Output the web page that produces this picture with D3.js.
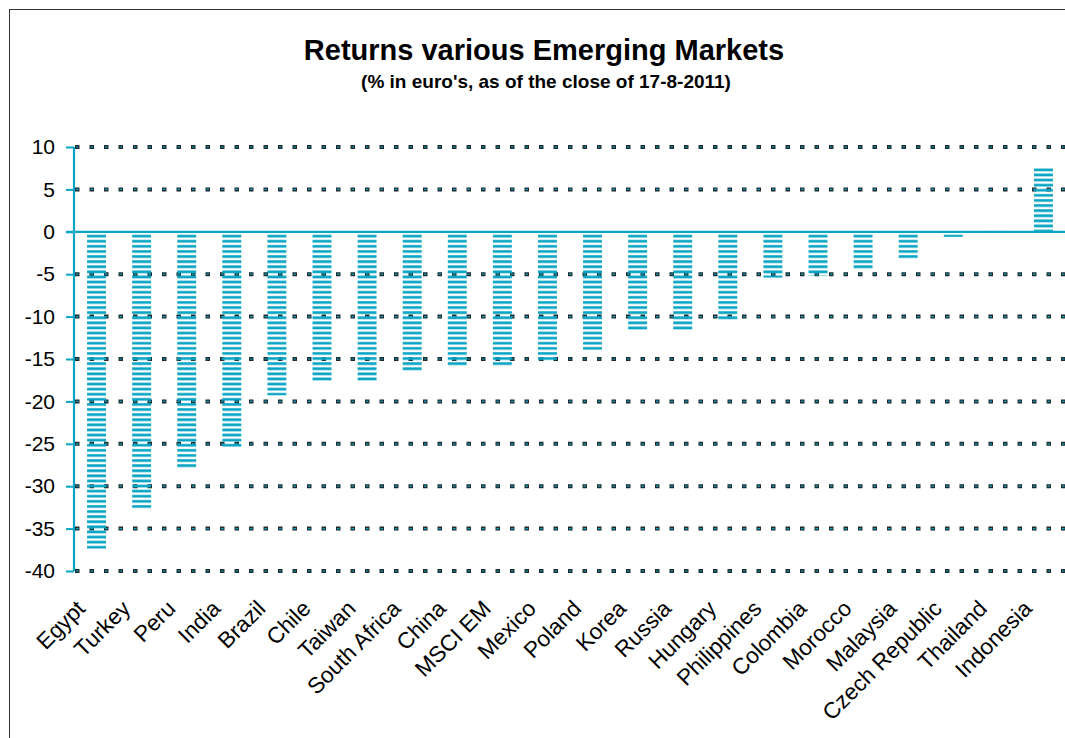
<html>

<head>
    <meta charset="utf-8">
    <script src="https://d3js.org/d3.v7.min.js"></script>
    <style>
        body { margin: 0; background: #fff; }
        text { font-family: Arial, "Liberation Sans", sans-serif; }
        .axis .domain { stroke: none; }
    </style>
</head>

<body>
    <div id="chart"></div>
    <script>
        // data
        const countries = ["Egypt", "Turkey", "Peru", "India", "Brazil", "Chile", "Taiwan", "South Africa",
            "China", "MSCI EM", "Mexico", "Poland", "Korea", "Russia", "Hungary", "Philippines",
            "Colombia", "Morocco", "Malaysia", "Czech Republic", "Thailand", "Indonesia"];
        const returns = [-37.4, -32.8, -27.9, -25.5, -19.3, -17.7, -17.6, -16.5,
            -15.9, -15.8, -15.2, -14.0, -11.7, -11.6, -10.4, -5.4,
            -5.2, -4.4, -3.2, -0.6, 0.1, 7.5];
        const yTicks = [10, 5, 0, -5, -10, -15, -20, -25, -30, -35, -40];

        const teal = "#0aa5c4";

        const svg = d3.select("#chart")
            .append("svg")
            .attr("width", 1065)
            .attr("height", 738);

        // outer frame
        svg.append("rect")
            .attr("x", 9.5).attr("y", 9.5)
            .attr("width", 1200).attr("height", 900)
            .attr("fill", "none")
            .attr("stroke", "#333")
            .attr("stroke-width", 1);

        // striped fill
        const defs = svg.append("defs");
        const pat = defs.append("pattern")
            .attr("id", "stripes")
            .attr("patternUnits", "userSpaceOnUse")
            .attr("width", 10).attr("height", 5.1);
        pat.append("rect")
            .attr("x", 0).attr("y", 0.2)
            .attr("width", 10).attr("height", 2.7)
            .attr("fill", teal);

        // title
        svg.append("text")
            .attr("x", 544).attr("y", 60)
            .attr("text-anchor", "middle")
            .style("font-size", "29px").style("font-weight", "bold")
            .text("Returns various Emerging Markets");
        svg.append("text")
            .attr("x", 546).attr("y", 88)
            .attr("text-anchor", "middle")
            .style("font-size", "19px").style("font-weight", "bold")
            .text("(% in euro's, as of the close of 17-8-2011)");

        const left = 74, right = 1066;
        const xScale = d3.scaleBand().domain(countries).range([left, right]).paddingInner(0.58).paddingOuter(0.29);
        const yScale = d3.scaleLinear().domain([-40, 10]).range([571, 147]);

        // dotted gridlines (not on zero)
        const grid = svg.append("g");
        const gridVals = yTicks.filter(d => d !== 0);
        grid.selectAll("line.g1").data(gridVals).join("line")
            .attr("class", "g1")
            .attr("x1", left + 1).attr("x2", 1065)
            .attr("y1", d => yScale(d)).attr("y2", d => yScale(d))
            .attr("stroke", "#1d2a2e").attr("stroke-width", 4)
            .attr("stroke-dasharray", "4.5 10");
        grid.selectAll("line.g2").data(gridVals).join("line")
            .attr("class", "g2")
            .attr("x1", left + 2).attr("x2", 1065)
            .attr("y1", d => yScale(d)).attr("y2", d => yScale(d))
            .attr("stroke", teal).attr("stroke-width", 1.2)
            .attr("stroke-dasharray", "2.5 12");

        // bars
        svg.append("g").selectAll("rect").data(returns).join("rect")
            .attr("x", (d, i) => xScale(countries[i]))
            .attr("width", xScale.bandwidth())
            .attr("y", d => yScale(Math.max(0, d)))
            .attr("height", d => Math.abs(yScale(d) - yScale(0)))
            .attr("fill", "url(#stripes)");

        // zero line
        svg.append("line")
            .attr("x1", left - 8).attr("x2", 1065)
            .attr("y1", yScale(0)).attr("y2", yScale(0))
            .attr("stroke", teal).attr("stroke-width", 2.2);

        // y axis
        const yAxis = d3.axisLeft(yScale).tickValues(yTicks).tickSize(8).tickPadding(11)
            .tickFormat(d => String(d));
        const yg = svg.append("g")
            .attr("class", "axis")
            .attr("transform", "translate(" + left + ",0)")
            .call(yAxis);
        yg.selectAll(".tick line").attr("stroke", teal).attr("stroke-width", 2);
        yg.selectAll(".tick text")
            .style("font-size", "21px")
            .attr("fill", "#000")
            .attr("font-family", "Arial, 'Liberation Sans', sans-serif");
        svg.append("line")
            .attr("x1", left).attr("x2", left)
            .attr("y1", yScale(10)).attr("y2", yScale(-40))
            .attr("stroke", teal).attr("stroke-width", 2.2);

        // category labels
        svg.append("g").selectAll("text").data(countries).join("text")
            .attr("transform", d => "translate(" + (xScale(d) + xScale.bandwidth() / 2 - 10) + ",610) rotate(-45)")
            .attr("text-anchor", "end")
            .style("font-size", "22.5px")
            .text(d => d);
    </script>
</body>

</html>
